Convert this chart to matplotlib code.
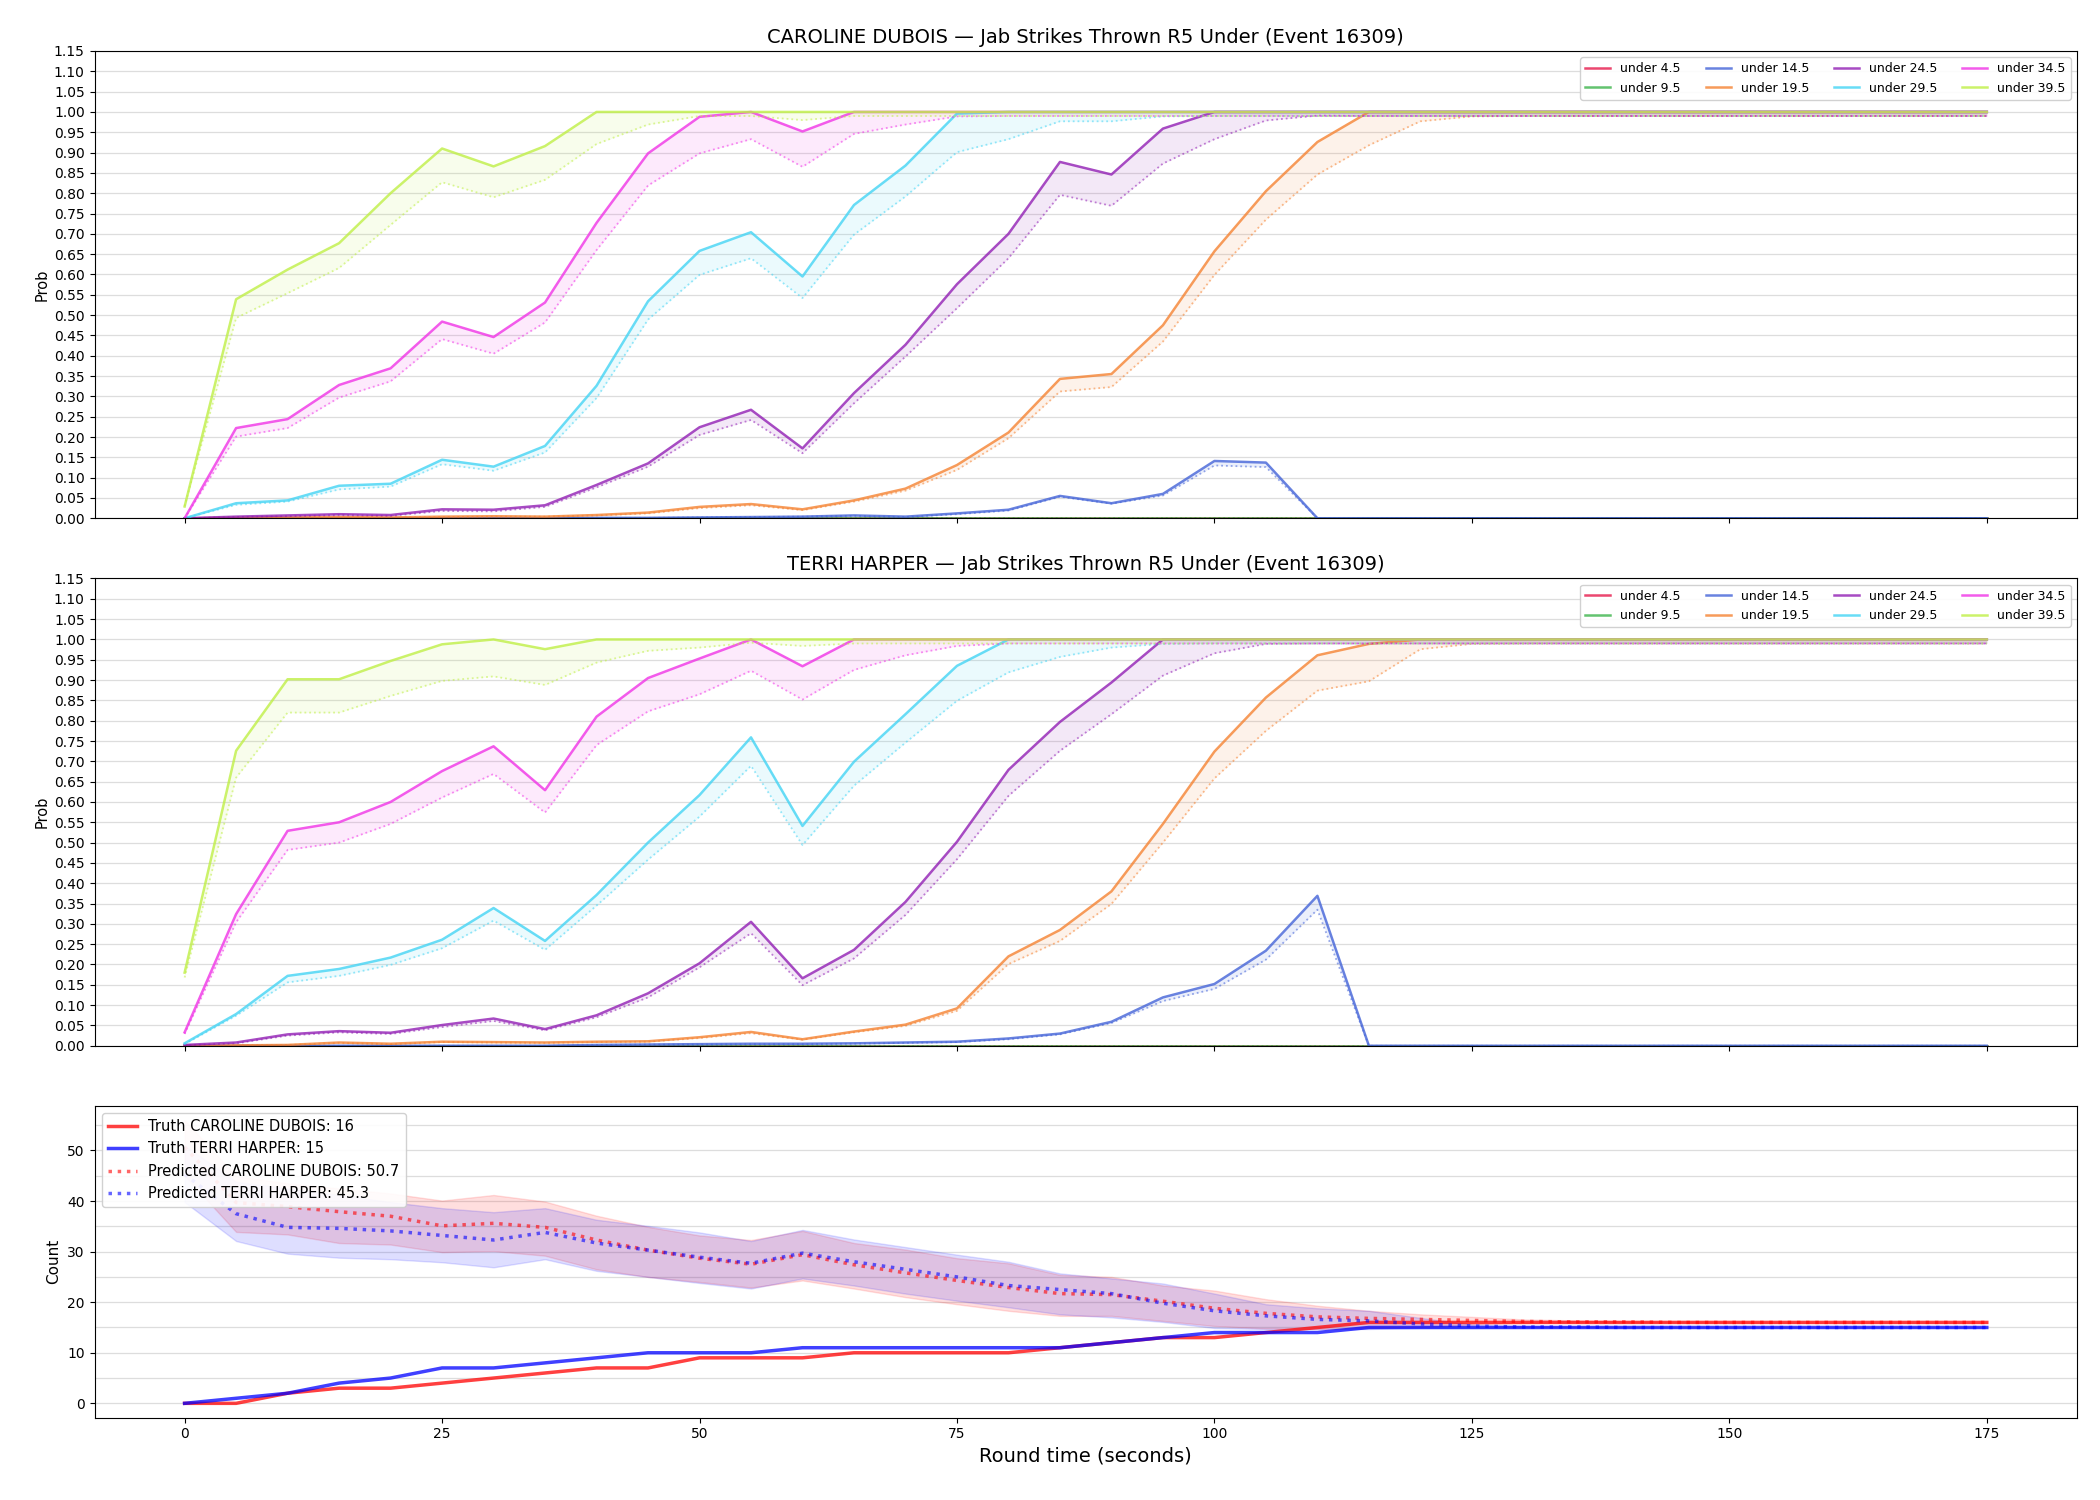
import numpy as np
import matplotlib
matplotlib.use("Agg")
import matplotlib.pyplot as plt
from matplotlib.ticker import MultipleLocator

# round time (seconds)
t = [0, 5, 10, 15, 20, 25, 30, 35, 40, 45, 50, 55, 60, 65, 70, 75, 80, 85,
     90, 95, 100, 105, 110, 115, 120, 125, 130, 135, 140, 145, 150, 155, 160, 165, 170, 175]

lines = ["under 4.5", "under 9.5", "under 14.5", "under 19.5",
         "under 24.5", "under 29.5", "under 34.5", "under 39.5"]
colors = ["#e6194b", "#3cb44b", "#4363d8", "#f58231",
          "#911eb4", "#42d4f4", "#f032e6", "#bfef45"]

zeros = [0, 0, 0, 0, 0, 0, 0, 0, 0, 0, 0, 0, 0, 0, 0, 0, 0, 0,
         0, 0, 0, 0, 0, 0, 0, 0, 0, 0, 0, 0, 0, 0, 0, 0, 0, 0]

# ---- CAROLINE DUBOIS: live prob (solid) and model prob (dotted)
cd_u145 = [0, 0, 0, 0, 0, 0, 0, 0, 0.001, 0.001, 0.002, 0.003, 0.004, 0.007, 0.004, 0.012, 0.021, 0.055,
           0.037, 0.060, 0.141, 0.137, 0, 0, 0, 0, 0, 0, 0, 0, 0, 0, 0, 0, 0, 0]
cd_u145_m = [0, 0, 0, 0, 0, 0, 0, 0, 0.001, 0.001, 0.002, 0.003, 0.004, 0.006, 0.003, 0.010, 0.019, 0.053,
             0.036, 0.056, 0.130, 0.126, 0, 0, 0, 0, 0, 0, 0, 0, 0, 0, 0, 0, 0, 0]
cd_u195 = [0, 0.001, 0.002, 0.003, 0.002, 0.004, 0.005, 0.004, 0.008, 0.014, 0.028, 0.035, 0.022, 0.044, 0.073, 0.131, 0.211, 0.343,
           0.355, 0.475, 0.657, 0.805, 0.926, 1.0, 1.0, 1.0, 1.0, 1.0, 1.0, 1.0, 1.0, 1.0, 1.0, 1.0, 1.0, 1.0]
cd_u195_m = [0, 0.001, 0.002, 0.003, 0.002, 0.003, 0.004, 0.004, 0.007, 0.012, 0.025, 0.032, 0.020, 0.041, 0.068, 0.119, 0.197, 0.312,
             0.323, 0.435, 0.599, 0.735, 0.846, 0.918, 0.977, 0.989, 0.99, 0.99, 0.99, 0.99, 0.99, 0.99, 0.99, 0.99, 0.99, 0.99]
cd_u245 = [0, 0.004, 0.007, 0.010, 0.008, 0.022, 0.021, 0.032, 0.082, 0.135, 0.224, 0.267, 0.172, 0.308, 0.427, 0.576, 0.700, 0.877,
           0.846, 0.959, 1.0, 1.0, 1.0, 1.0, 1.0, 1.0, 1.0, 1.0, 1.0, 1.0, 1.0, 1.0, 1.0, 1.0, 1.0, 1.0]
cd_u245_m = [0, 0.003, 0.005, 0.008, 0.006, 0.018, 0.017, 0.028, 0.076, 0.127, 0.205, 0.242, 0.160, 0.283, 0.398, 0.517, 0.640, 0.796,
             0.769, 0.873, 0.933, 0.979, 0.991, 0.99, 0.99, 0.99, 0.99, 0.99, 0.99, 0.99, 0.99, 0.99, 0.99, 0.99, 0.99, 0.99]
cd_u295 = [0, 0.037, 0.044, 0.080, 0.085, 0.144, 0.127, 0.178, 0.326, 0.534, 0.658, 0.704, 0.595, 0.771, 0.868, 0.996, 1.0, 1.0,
           1.0, 1.0, 1.0, 1.0, 1.0, 1.0, 1.0, 1.0, 1.0, 1.0, 1.0, 1.0, 1.0, 1.0, 1.0, 1.0, 1.0, 1.0]
cd_u295_m = [0, 0.033, 0.041, 0.071, 0.078, 0.133, 0.117, 0.162, 0.296, 0.489, 0.599, 0.640, 0.542, 0.698, 0.792, 0.901, 0.933, 0.977,
             0.977, 0.989, 0.99, 0.99, 0.99, 0.99, 0.99, 0.99, 0.99, 0.99, 0.99, 0.99, 0.99, 0.99, 0.99, 0.99, 0.99, 0.99]
cd_u345 = [0, 0.222, 0.244, 0.328, 0.369, 0.484, 0.446, 0.531, 0.727, 0.898, 0.988, 1.0, 0.952, 1.0, 1.0, 1.0, 1.0, 1.0,
           1.0, 1.0, 1.0, 1.0, 1.0, 1.0, 1.0, 1.0, 1.0, 1.0, 1.0, 1.0, 1.0, 1.0, 1.0, 1.0, 1.0, 1.0]
cd_u345_m = [0, 0.201, 0.222, 0.297, 0.337, 0.441, 0.405, 0.482, 0.660, 0.819, 0.898, 0.933, 0.865, 0.946, 0.969, 0.989, 0.99, 0.99,
             0.99, 0.99, 0.99, 0.99, 0.99, 0.99, 0.99, 0.99, 0.99, 0.99, 0.99, 0.99, 0.99, 0.99, 0.99, 0.99, 0.99, 0.99]
cd_u395 = [0.029, 0.539, 0.612, 0.677, 0.800, 0.910, 0.866, 0.916, 1.0, 1.0, 1.0, 1.0, 1.0, 1.0, 1.0, 1.0, 1.0, 1.0,
           1.0, 1.0, 1.0, 1.0, 1.0, 1.0, 1.0, 1.0, 1.0, 1.0, 1.0, 1.0, 1.0, 1.0, 1.0, 1.0, 1.0, 1.0]
cd_u395_m = [0.030, 0.493, 0.554, 0.616, 0.722, 0.827, 0.790, 0.833, 0.921, 0.969, 0.990, 0.990, 0.980, 0.990, 0.99, 0.99, 0.99, 0.99,
             0.99, 0.99, 0.99, 0.99, 0.99, 0.99, 0.99, 0.99, 0.99, 0.99, 0.99, 0.99, 0.99, 0.99, 0.99, 0.99, 0.99, 0.99]

# ---- TERRI HARPER
th_u145 = [0, 0, 0, 0, 0, 0, 0, 0, 0.002, 0.003, 0.004, 0.005, 0.005, 0.006, 0.008, 0.010, 0.018, 0.030,
           0.059, 0.119, 0.152, 0.234, 0.369, 0, 0, 0, 0, 0, 0, 0, 0, 0, 0, 0, 0, 0]
th_u145_m = [0, 0, 0, 0, 0, 0, 0, 0, 0.002, 0.003, 0.003, 0.004, 0.004, 0.005, 0.007, 0.009, 0.016, 0.028,
             0.056, 0.110, 0.140, 0.212, 0.335, 0, 0, 0, 0, 0, 0, 0, 0, 0, 0, 0, 0, 0]
th_u195 = [0, 0.001, 0.002, 0.008, 0.005, 0.010, 0.009, 0.008, 0.010, 0.011, 0.021, 0.034, 0.016, 0.035, 0.052, 0.092, 0.220, 0.285,
           0.380, 0.546, 0.724, 0.857, 0.961, 0.989, 1.0, 1.0, 1.0, 1.0, 1.0, 1.0, 1.0, 1.0, 1.0, 1.0, 1.0, 1.0]
th_u195_m = [0, 0.001, 0.002, 0.007, 0.004, 0.009, 0.008, 0.007, 0.009, 0.010, 0.019, 0.031, 0.015, 0.033, 0.049, 0.086, 0.201, 0.258,
             0.349, 0.500, 0.658, 0.775, 0.874, 0.897, 0.976, 0.989, 0.99, 0.99, 0.99, 0.99, 0.99, 0.99, 0.99, 0.99, 0.99, 0.99]
th_u245 = [0.002, 0.008, 0.028, 0.036, 0.032, 0.051, 0.067, 0.041, 0.075, 0.129, 0.203, 0.305, 0.166, 0.236, 0.354, 0.502, 0.679, 0.797,
           0.894, 1.0, 1.0, 1.0, 1.0, 1.0, 1.0, 1.0, 1.0, 1.0, 1.0, 1.0, 1.0, 1.0, 1.0, 1.0, 1.0, 1.0]
th_u245_m = [0.001, 0.006, 0.025, 0.033, 0.029, 0.046, 0.061, 0.038, 0.070, 0.119, 0.193, 0.277, 0.149, 0.215, 0.322, 0.459, 0.615, 0.726,
             0.816, 0.911, 0.966, 0.989, 0.99, 0.99, 0.99, 0.99, 0.99, 0.99, 0.99, 0.99, 0.99, 0.99, 0.99, 0.99, 0.99, 0.99]
th_u295 = [0.006, 0.078, 0.172, 0.189, 0.217, 0.261, 0.339, 0.258, 0.371, 0.500, 0.617, 0.759, 0.541, 0.699, 0.816, 0.935, 1.0, 1.0,
           1.0, 1.0, 1.0, 1.0, 1.0, 1.0, 1.0, 1.0, 1.0, 1.0, 1.0, 1.0, 1.0, 1.0, 1.0, 1.0, 1.0, 1.0]
th_u295_m = [0.004, 0.074, 0.156, 0.172, 0.199, 0.240, 0.308, 0.236, 0.345, 0.458, 0.564, 0.689, 0.494, 0.640, 0.746, 0.849, 0.919, 0.957,
             0.980, 0.989, 0.99, 0.99, 0.99, 0.99, 0.99, 0.99, 0.99, 0.99, 0.99, 0.99, 0.99, 0.99, 0.99, 0.99, 0.99, 0.99]
th_u345 = [0.033, 0.324, 0.529, 0.550, 0.600, 0.676, 0.737, 0.629, 0.810, 0.905, 0.953, 1.0, 0.934, 1.0, 1.0, 1.0, 1.0, 1.0,
           1.0, 1.0, 1.0, 1.0, 1.0, 1.0, 1.0, 1.0, 1.0, 1.0, 1.0, 1.0, 1.0, 1.0, 1.0, 1.0, 1.0, 1.0]
th_u345_m = [0.029, 0.304, 0.482, 0.500, 0.546, 0.611, 0.669, 0.574, 0.740, 0.823, 0.865, 0.923, 0.852, 0.925, 0.961, 0.984, 0.99, 0.99,
             0.99, 0.99, 0.99, 0.99, 0.99, 0.99, 0.99, 0.99, 0.99, 0.99, 0.99, 0.99, 0.99, 0.99, 0.99, 0.99, 0.99, 0.99]
th_u395 = [0.180, 0.726, 0.902, 0.902, 0.947, 0.988, 1.0, 0.976, 1.0, 1.0, 1.0, 1.0, 1.0, 1.0, 1.0, 1.0, 1.0, 1.0,
           1.0, 1.0, 1.0, 1.0, 1.0, 1.0, 1.0, 1.0, 1.0, 1.0, 1.0, 1.0, 1.0, 1.0, 1.0, 1.0, 1.0, 1.0]
th_u395_m = [0.168, 0.660, 0.820, 0.820, 0.861, 0.898, 0.909, 0.888, 0.943, 0.972, 0.980, 0.992, 0.984, 0.99, 0.99, 0.99, 0.99, 0.99,
             0.99, 0.99, 0.99, 0.99, 0.99, 0.99, 0.99, 0.99, 0.99, 0.99, 0.99, 0.99, 0.99, 0.99, 0.99, 0.99, 0.99, 0.99]

# ---- counts
truth_cd = [0, 0, 2, 3, 3, 4, 5, 6, 7, 7, 9, 9, 9, 10, 10, 10, 10, 11,
            12, 13, 13, 14, 15, 16, 16, 16, 16, 16, 16, 16, 16, 16, 16, 16, 16, 16]
truth_th = [0, 1, 2, 4, 5, 7, 7, 8, 9, 10, 10, 10, 11, 11, 11, 11, 11, 11,
            12, 13, 14, 14, 14, 15, 15, 15, 15, 15, 15, 15, 15, 15, 15, 15, 15, 15]
pred_cd = [50.7, 39.7, 38.9, 37.9, 37.0, 35.1, 35.6, 34.8, 32.3, 30.3, 28.7, 27.5, 29.4, 27.4, 25.8, 24.3, 22.9, 21.7,
           21.5, 20.2, 18.8, 17.8, 17.1, 16.8, 16.6, 16.4, 16.2, 16.1, 16.1, 16.0, 16.0, 16.0, 16.0, 16.0, 16.0, 16.0]
pred_th = [45.3, 37.5, 34.8, 34.6, 34.1, 33.2, 32.3, 33.8, 31.7, 30.3, 28.9, 27.7, 29.7, 28.0, 26.5, 25.0, 23.3, 22.5,
           21.7, 19.8, 18.3, 17.3, 16.6, 16.3, 15.7, 15.3, 15.1, 15.1, 15.0, 15.0, 15.0, 15.0, 15.0, 15.0, 15.0, 15.0]
cd_lo = [45.0, 33.9, 33.4, 31.7, 31.4, 29.9, 30.1, 29.2, 26.5, 25.0, 24.0, 22.9, 24.3, 22.7, 21.0, 19.6, 18.3, 17.3,
         17.3, 16.3, 15.3, 14.8, 14.7, 14.9, 15.1, 15.6, 15.9, 16.0, 16.0, 16.0, 16.0, 16.0, 16.0, 16.0, 16.0, 16.0]
cd_hi = [56.0, 44.9, 43.5, 42.5, 41.5, 40.1, 41.2, 39.9, 37.1, 34.9, 33.2, 32.3, 34.1, 31.7, 30.4, 28.7, 27.7, 25.4,
         25.0, 23.3, 22.3, 20.6, 19.3, 18.3, 17.6, 17.1, 16.6, 16.4, 16.2, 16.1, 16.1, 16.0, 16.0, 16.0, 16.0, 16.0]
th_lo = [39.8, 32.1, 29.6, 28.8, 28.5, 27.9, 26.9, 28.5, 26.2, 25.0, 23.8, 22.7, 24.7, 23.3, 21.7, 20.3, 19.0, 17.6,
         17.0, 16.1, 14.9, 14.7, 14.7, 14.7, 14.9, 14.9, 15.0, 15.0, 15.0, 15.0, 15.0, 15.0, 15.0, 15.0, 15.0, 15.0]
th_hi = [51.0, 43.8, 42.5, 41.2, 39.8, 38.6, 37.8, 38.6, 36.3, 35.1, 33.8, 32.1, 34.3, 32.4, 30.9, 29.4, 28.0, 25.7,
         24.7, 23.7, 21.7, 19.6, 18.8, 18.3, 16.9, 15.6, 15.3, 15.2, 15.1, 15.0, 15.0, 15.0, 15.0, 15.0, 15.0, 15.0]

cd_live = [zeros, zeros, cd_u145, cd_u195, cd_u245, cd_u295, cd_u345, cd_u395]
cd_model = [zeros, zeros, cd_u145_m, cd_u195_m, cd_u245_m, cd_u295_m, cd_u345_m, cd_u395_m]
th_live = [zeros, zeros, th_u145, th_u195, th_u245, th_u295, th_u345, th_u395]
th_model = [zeros, zeros, th_u145_m, th_u195_m, th_u245_m, th_u295_m, th_u345_m, th_u395_m]

fig, axes = plt.subplots(3, 1, figsize=(21, 15), dpi=100, sharex=True,
                         gridspec_kw={"height_ratios": [3, 3, 2]})
fig.subplots_adjust(left=0.045, right=0.989, top=0.966, bottom=0.055, hspace=0.145)


def prob_panel(ax, live, model, name):
    for lab, col, a, b in zip(lines, colors, live, model):
        ax.plot(t, a, color=col, lw=1.8, alpha=0.8, label=lab)
        ax.plot(t, b, color=col, lw=1.3, alpha=0.55, ls=":")
        ax.fill_between(t, a, b, color=col, alpha=0.1, lw=0)
    ax.set_ylim(0, 1.15)
    ax.yaxis.set_major_locator(MultipleLocator(0.05))
    ax.yaxis.set_major_formatter(matplotlib.ticker.FormatStrFormatter("%.2f"))
    ax.tick_params(labelsize=10)
    ax.grid(axis="y", color="#dddddd", lw=0.9)
    ax.set_axisbelow(True)
    ax.set_ylabel("Prob", fontsize=10.5, labelpad=3)
    ax.set_title(f"{name} \u2014 Jab Strikes Thrown R5 Under (Event 16309)", fontsize=14)
    ax.legend(loc="upper right", ncol=4, fontsize=9, framealpha=0.9)


prob_panel(axes[0], cd_live, cd_model, "CAROLINE DUBOIS")
prob_panel(axes[1], th_live, th_model, "TERRI HARPER")

ax = axes[2]
ax.fill_between(t, cd_lo, cd_hi, color="red", alpha=0.13, lw=1, edgecolor=(1, 0, 0, 0.2))
ax.fill_between(t, th_lo, th_hi, color="blue", alpha=0.13, lw=1, edgecolor=(0, 0, 1, 0.2))
ax.plot(t, truth_cd, color="red", lw=2.5, alpha=0.75, label=f"Truth CAROLINE DUBOIS: {truth_cd[-1]}")
ax.plot(t, truth_th, color="blue", lw=2.5, alpha=0.75, label=f"Truth TERRI HARPER: {truth_th[-1]}")
ax.plot(t, pred_cd, color="red", lw=2.5, alpha=0.6, ls=":", label=f"Predicted CAROLINE DUBOIS: {pred_cd[0]}")
ax.plot(t, pred_th, color="blue", lw=2.5, alpha=0.6, ls=":", label=f"Predicted TERRI HARPER: {pred_th[0]}")
ax.yaxis.set_major_locator(MultipleLocator(10))
ax.yaxis.set_minor_locator(MultipleLocator(5))
ax.tick_params(axis="y", which="minor", length=0)
ax.tick_params(labelsize=10)
ax.grid(axis="y", which="both", color="#dddddd", lw=0.9)
ax.set_axisbelow(True)
ax.set_ylabel("Count", fontsize=11)
ax.set_xlabel("Round time (seconds)", fontsize=14)
ax.set_xticks([0, 25, 50, 75, 100, 125, 150, 175])
ax.legend(loc="upper left", fontsize=10.5, framealpha=0.9)

fig.savefig("out.png", dpi=100)
